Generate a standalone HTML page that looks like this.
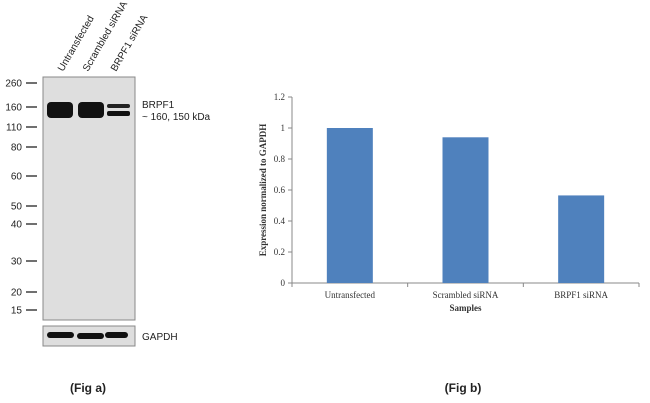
<!DOCTYPE html>
<html><head><meta charset="utf-8"><style>
body{margin:0;background:#fff;width:650px;height:403px;overflow:hidden;font-family:"Liberation Sans",sans-serif}
svg{position:absolute;left:0;top:0}
</style></head><body>
<svg width="650" height="403">
<g font-family="Liberation Sans, sans-serif" font-size="10" fill="#222">
<rect x="43" y="77" width="92" height="243" fill="#dedede" stroke="#888"/>
<rect x="43" y="326" width="92" height="20" fill="#dedede" stroke="#888"/>
<g>
<text transform="translate(63,72) rotate(-60)">Untransfected</text>
<text transform="translate(88,72) rotate(-60)">Scrambled siRNA</text>
<text transform="translate(116,72) rotate(-60)">BRPF1 siRNA</text>
</g>
<g id="markers"></g>
<rect x="47" y="102" width="26" height="16" rx="4" fill="#111"/>
<rect x="78" y="102" width="26" height="16" rx="4" fill="#111"/>
<rect x="107" y="104" width="23" height="4" rx="2" fill="#222"/>
<rect x="107" y="111" width="23" height="5" rx="2" fill="#111"/>
<rect x="47" y="332" width="27" height="6" rx="3" fill="#111"/>
<rect x="77" y="333" width="27" height="6" rx="3" fill="#111"/>
<rect x="105" y="332" width="23" height="6" rx="3" fill="#111"/>
<text x="142" y="108">BRPF1</text>
<text x="142" y="120">~ 160, 150 kDa</text>
<text x="142" y="340">GAPDH</text>
<text x="88" y="392" text-anchor="middle" font-weight="bold" font-size="12">(Fig a)</text>
</g>
<g id="chart" font-family="Liberation Serif, serif" font-size="9" fill="#333"></g>
<text x="463" y="392" text-anchor="middle" font-weight="bold" font-size="12" font-family="Liberation Sans, sans-serif" fill="#222">(Fig b)</text>
</svg>
<script>
const mwLabels=["260","160","110","80","60","50","40","30","20","15"];
const mwY=[83,107,127,147,176,206,224,261,292,310];
const categories=["Untransfected","Scrambled siRNA","BRPF1 siRNA"];
const values=[1.0,0.94,0.565];
const yTicks=[0,0.2,0.4,0.6,0.8,1,1.2];
const NS="http://www.w3.org/2000/svg";
function mk(p,t,a){const e=document.createElementNS(NS,t);for(const k in a)e.setAttribute(k,a[k]);p.appendChild(e);return e;}
const mg=document.getElementById('markers');
mwLabels.forEach((l,i)=>{
 const t=mk(mg,'text',{x:22,y:mwY[i]+3.5,'text-anchor':'end'});t.textContent=l;
 
 
 const ln=mk(mg,'line',{x1:26,x2:37,y1:mwY[i],y2:mwY[i],stroke:'#222','stroke-width':1.3});
 
 
});
const g=document.getElementById('chart');
const x0=292,x1=639,y0=283,yTop=97,yMax=1.2;
const yS=v=>y0-(v/yMax)*(y0-yTop);
const bw=(x1-x0)/categories.length;
const ax=mk(g,'line',{x1:x0,x2:x0,y1:yTop,y2:y0,stroke:'#888'});


const bx=mk(g,'line',{x1:x0,x2:x1,y1:y0,y2:y0,stroke:'#888'});


yTicks.forEach(v=>{
 const y=yS(v);
 const tk=mk(g,'line',{x1:x0-4,x2:x0,y1:y,y2:y,stroke:'#888'});
 
 
 const t=mk(g,'text',{x:x0-7,y:y+3,'text-anchor':'end'});t.textContent=String(v);
 
 
});
for(let i=0;i<=categories.length;i++){
 const xx=x0+i*bw;
 const tk=mk(g,'line',{x1:xx,x2:xx,y1:y0,y2:y0+4,stroke:'#888'});
 
 
}
categories.forEach((c,i)=>{
 const cx=x0+bw*(i+0.5),w=46;
 const r=mk(g,'rect',{x:cx-w/2,y:yS(values[i]),width:w,height:y0-yS(values[i]),fill:'#4f81bd'});
 
 
 const t=mk(g,'text',{x:cx,y:y0+15,'text-anchor':'middle'});t.textContent=c;
 
 
});
const xt=mk(g,'text',{x:(x0+x1)/2,y:311,'text-anchor':'middle','font-weight':'bold'});xt.textContent='Samples';


const yt=mk(g,'text',{transform:'translate(266,'+((y0+yTop)/2)+') rotate(-90)','text-anchor':'middle','font-weight':'bold'});yt.textContent='Expression  normalized to GAPDH';


</script>
</body></html>
